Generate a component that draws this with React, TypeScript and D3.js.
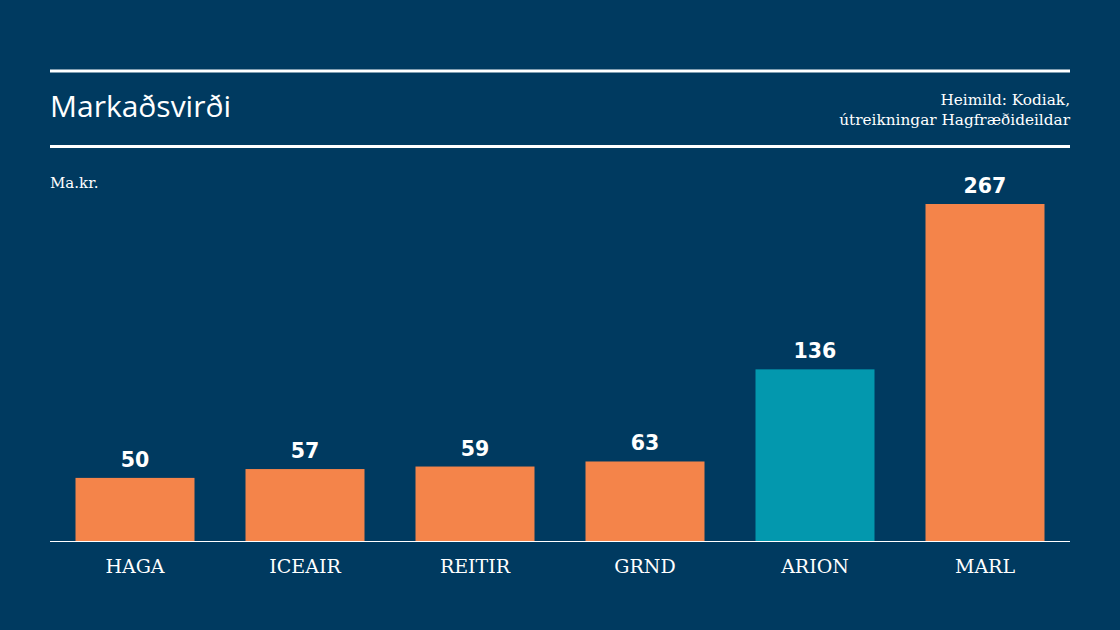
import React from "react";
import * as d3 from "d3";

const categories = ["HAGA", "ICEAIR", "REITIR", "GRND", "ARION", "MARL"];
const values = [50, 57, 59, 63, 136, 267];
const highlighted = ["ARION"];

const W = 1120;
const H = 630;
const BG = "#003A60";
const ORANGE = "#F4844A";
const TEAL = "#0398AE";

export default function App() {
  const x = d3.scaleBand<string>().domain(categories).range([50, 1070]).paddingInner(0.3).paddingOuter(0.15);
  const y = d3.scaleLinear().domain([0, 267]).range([541, 204]);
  return (
    <svg width={W} height={H} style={{ position: "absolute", left: 0, top: 0 }}>
      <rect width={W} height={H} fill={BG} />
      <line x1={50} x2={1070} y1={71} y2={71} stroke="#fff" strokeWidth={3} />
      <line x1={50} x2={1070} y1={146.5} y2={146.5} stroke="#fff" strokeWidth={3} />
      <text x={50} y={117} fill="#fff" fontFamily="'Open Sans','Noto Sans',sans-serif" fontWeight={500} fontSize={30}>Markaðsvirði</text>
      <text x={1070} y={105} fill="#fff" textAnchor="end" fontFamily="'DejaVu Serif',serif" fontSize={15.3}>Heimild: Kodiak,</text>
      <text x={1070} y={125} fill="#fff" textAnchor="end" fontFamily="'DejaVu Serif',serif" fontSize={15.3}>útreikningar Hagfræðideildar</text>
      <text x={50} y={188} fill="#fff" fontFamily="'DejaVu Serif',serif" fontSize={15}>Ma.kr.</text>
      {categories.map((c, i) => (
        <g key={c}>
          <rect x={x(c)} y={y(values[i])} width={x.bandwidth()} height={y(0) - y(values[i])} fill={highlighted.includes(c) ? TEAL : ORANGE} />
          <text x={(x(c) as number) + x.bandwidth() / 2} y={y(values[i]) - 11} textAnchor="middle" fill="#fff" fontFamily="'DejaVu Sans',sans-serif" fontWeight="bold" fontSize={20.5}>{values[i]}</text>
          <text x={(x(c) as number) + x.bandwidth() / 2} y={573} textAnchor="middle" fill="#fff" fontFamily="'DejaVu Serif',serif" fontSize={19}>{c}</text>
        </g>
      ))}
      <line x1={50} x2={1070} y1={y(0) + 0.5} y2={y(0) + 0.5} stroke="#fff" strokeWidth={1} />
    </svg>
  );
}
